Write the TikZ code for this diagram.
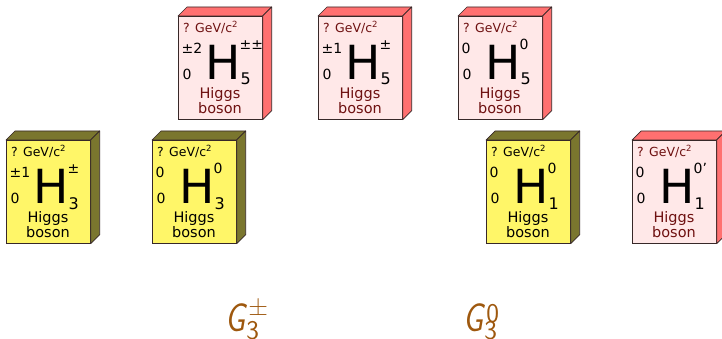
\documentclass[tikz,border=0pt]{standalone}
\usepackage{fontspec}
\newfontfamily\cardfont{DejaVu Sans}
\usetikzlibrary{positioning, calc}

\definecolor{pinkfront}{RGB}{255,232,232}
\definecolor{pinkside}{RGB}{255,112,112}
\definecolor{pinktext}{RGB}{110,16,16}
\definecolor{yellowfront}{RGB}{255,246,104}
\definecolor{yellowside}{RGB}{122,118,46}
\definecolor{yellowtext}{RGB}{0,0,0}
\definecolor{cardedge}{RGB}{55,40,40}
\definecolor{gbrown}{RGB}{158,88,14}

\tikzset{
  card/.style={rectangle, draw=cardedge, line width=0.7pt, minimum width=84pt, minimum height=103pt, inner sep=0pt, anchor=north west},
  cardface/.style={draw=cardedge, line width=0.7pt, line join=round},
  cardtext/.style={inner sep=0pt, anchor=base west, font=\cardfont\fontsize{#1}{#1}\selectfont},
  glabel/.style={inner sep=0pt, anchor=base west, text=gbrown, font=\sffamily\slshape\fontsize{40}{40}\selectfont}
}

\newcommand{\gsmall}{\upshape\fontsize{27}{27}\selectfont}
\newcommand{\gletter}{\scalebox{0.8}[1]{G}}

% name, scheme, x, y, charge, colour, sup, sub
\newcommand{\higgscard}[8]{%
  \node[card, fill=#2front] (#1) at (#3,#4) {};
  \filldraw[cardface, fill=#2side] (#1.north west) -- ++(9,-9) -- ([shift={(9,-9)}]#1.north east) -- (#1.north east) -- cycle;
  \filldraw[cardface, fill=#2side] (#1.north east) -- ++(9,-9) -- ([shift={(9,-9)}]#1.south east) -- (#1.south east) -- cycle;
  \node[cardtext=12.5, text=#2text] (#1-mass) at ($(#1.north west)+(5,16.5)$) {? GeV/c\raisebox{5pt}{\fontsize{8.5}{8.5}\selectfont 2}};
  \node[cardtext=14] (#1-charge) at ($(#1.north west)+(3.5,38)$) {#5};
  \node[cardtext=14] (#1-colour) at ($(#1.north west)+(4.5,64)$) {#6};
  \node[cardtext=47] (#1-sym) at ($(#1.north west)+(27,64)$) {H};
  \node[cardtext=14] (#1-sup) at ($(#1.north west)+(61.5,33.5)$) {#7};
  \node[cardtext=16] (#1-sub) at ($(#1.north west)+(62.5,69)$) {#8};
  \node[inner sep=0pt, anchor=north, align=center, text=#2text, font=\cardfont\fontsize{14.5}{12.5}\selectfont] (#1-name) at ($(#1.north west)+(42,71.5)$) {Higgs\\boson};
}

\begin{document}
\begin{tikzpicture}[x=1pt, y=-1pt]
  \useasboundingbox (0,0) rectangle (722,339);

  \higgscard{h5pp}{pink}{178}{16}{±2}{0}{±±}{5}
  \higgscard{h5p}{pink}{318}{16}{±1}{0}{±}{5}
  \higgscard{h5z}{pink}{458}{16}{0}{0}{0}{5}

  \higgscard{h3p}{yellow}{6}{140}{±1}{0}{±}{3}
  \higgscard{h3z}{yellow}{152}{140}{0}{0}{0}{3}
  \higgscard{h1z}{yellow}{486}{140}{0}{0}{0}{1}
  \higgscard{h1zp}{pink}{632}{140}{0}{0}{0’}{1}

  \node[glabel] (gcharged) at (225,331) {\gletter\kern1pt\rlap{\raisebox{-8pt}{\gsmall 3}}\kern2pt\raisebox{16pt}{\gsmall ±}};
  \node[glabel] (gneutral) at (463,331) {\gletter\kern1pt\rlap{\raisebox{-8pt}{\gsmall 3}}\kern2pt\raisebox{9pt}{\gsmall 0}};
\end{tikzpicture}
\end{document}
